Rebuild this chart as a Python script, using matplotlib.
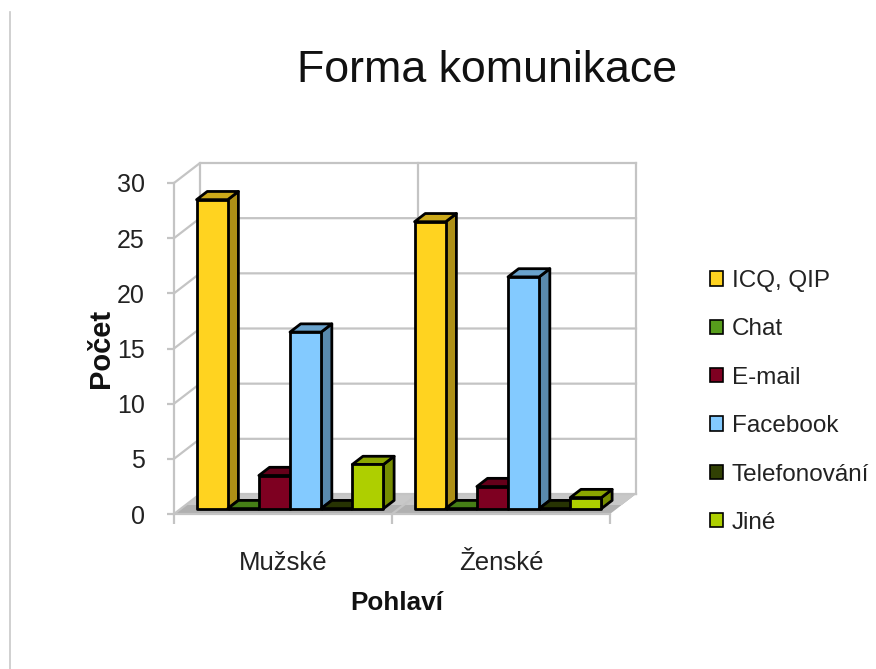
import matplotlib
matplotlib.use("Agg")
import matplotlib.pyplot as plt
from matplotlib.patches import Patch
from matplotlib.lines import Line2D

plt.rcParams['font.family'] = ['Liberation Sans', 'DejaVu Sans']

title = "Forma komunikace"
groups = ["Mužské", "Ženské"]
series = ["ICQ, QIP", "Chat", "E-mail", "Facebook", "Telefonování", "Jiné"]
muzske = [28, 0, 3, 16, 0, 4]
zenske = [26, 0, 2, 21, 0, 1]
colors = ["#FFD320", "#579D1C", "#7E0021", "#83CAFF", "#314004", "#AECF00"]
y_ticks = [0, 5, 10, 15, 20, 25, 30]

W, H = 876, 669
GRID = "#c4c4c4"
TEXT = "#222222"

# front plane of the fake 3d box, in pixels
fig = plt.figure(figsize=(W / 100, H / 100), dpi=100)
ax = fig.add_axes([174 / W, (H - 514) / H, 436 / W, 331 / H])
ax.set_xlim(0, 14)
ax.set_ylim(0, 30)
ax.patch.set_visible(False)

# depth direction, data units per full box depth
DX = 26 * 14 / 436
DY = 20 * 30 / 331


def proj(x, y, z):
    return x + z * DX, y + z * DY


def shade(col, k):
    r, g, b = matplotlib.colors.to_rgb(col)
    return (r * k, g * k, b * k)


# floor
p = [proj(0, 0, 0), proj(14, 0, 0), proj(14, 0, 1), proj(0, 0, 1)]
ax.fill(*zip(*p), color="#b0b0b0", lw=0, zorder=1, clip_on=False)
p = [proj(0, 0, 0.45), proj(14, 0, 0.45), proj(14, 0, 1), proj(0, 0, 1)]
ax.fill(*zip(*p), color="#c8c8c8", lw=0, zorder=1, clip_on=False)

# walls and grid
for v in y_ticks:
    a = proj(0, v, 0)
    b = proj(0, v, 1)
    c = proj(14, v, 1)
    ax.plot([a[0], b[0], c[0]], [a[1], b[1], c[1]], color=GRID, lw=1.6, zorder=2, clip_on=False)
for x in [0, 7, 14]:
    a = proj(x, 0, 1)
    b = proj(x, 30, 1)
    ax.plot([a[0], b[0]], [a[1], b[1]], color=GRID, lw=1.6, zorder=2, clip_on=False)
a = proj(7, 0, 0)
b = proj(7, 0, 1)
ax.plot([a[0], b[0]], [a[1], b[1]], color=GRID, lw=1.6, zorder=2, clip_on=False)

# bars, left to right so each front face covers the side before it
Z0, Z1 = 0.27, 0.68
z = 3
for g, vals in enumerate([muzske, zenske]):
    for s, v in enumerate(vals):
        x0 = g * 7 + 0.5 + s
        x1 = x0 + 1
        col = colors[s]
        top = [proj(x0, v, Z0), proj(x1, v, Z0), proj(x1, v, Z1), proj(x0, v, Z1)]
        side = [proj(x1, 0, Z0), proj(x1, v, Z0), proj(x1, v, Z1), proj(x1, 0, Z1)]
        front = [proj(x0, 0, Z0), proj(x1, 0, Z0), proj(x1, v, Z0), proj(x0, v, Z0)]
        ax.fill(*zip(*side), facecolor=shade(col, 0.68), edgecolor="black", lw=2.0, zorder=z, clip_on=False, joinstyle="round")
        ax.fill(*zip(*top), facecolor=shade(col, 0.8), edgecolor="black", lw=2.0, zorder=z, clip_on=False, joinstyle="round")
        ax.fill(*zip(*front), facecolor=col, edgecolor="black", lw=2.0, zorder=z, clip_on=False, joinstyle="round")
        z += 1

# axes
for sp in ["top", "right"]:
    ax.spines[sp].set_visible(False)
for sp in ["left", "bottom"]:
    ax.spines[sp].set_color(GRID)
    ax.spines[sp].set_linewidth(1.6)
    ax.spines[sp].set_zorder(2)
ax.set_yticks(y_ticks)
ax.tick_params(axis="y", length=5, width=1.6, color=GRID, labelsize=18, labelcolor=TEXT, pad=16)
ax.set_xticks([0, 7, 14])
ax.set_xticklabels([])
ax.tick_params(axis="x", which="major", length=7, width=1.6, color=GRID)
ax.set_xticks([3.5, 10.5], minor=True)
ax.set_xticklabels(groups, minor=True)
ax.tick_params(axis="x", which="minor", length=0, labelsize=18.5, labelcolor=TEXT, pad=26.5)

ax.set_ylabel("Počet", fontsize=21, fontweight="bold", color="#111111")
ax.yaxis.set_label_coords((115 - 174) / 436, 0.5)
ax.set_xlabel("Pohlaví", fontsize=18.8, fontweight="bold", color="#111111")
ax.xaxis.set_label_coords((397 - 174) / 436, -(591 - 514) / 331)

fig.text(487 / W, 1 - 71 / H, title, fontsize=32.2, color="#111111", ha="center", va="center")

# legend
handles = [Patch(facecolor=c, edgecolor="black", lw=1.2) for c in colors]
fig.legend(handles, series, loc="center left", bbox_to_anchor=(710 / W, 1 - 402 / H),
           frameon=False, fontsize=17.5, labelcolor=TEXT, handlelength=0.53, handleheight=0.53,
           handletextpad=0.37, labelspacing=1.085, borderpad=0, borderaxespad=0)

# slide edge on the left
fig.add_artist(Line2D([9.5 / W, 9.5 / W], [0, 1 - 12 / H], color="#c8c8c8", lw=1.2))

fig.savefig("out.png", dpi=100)
